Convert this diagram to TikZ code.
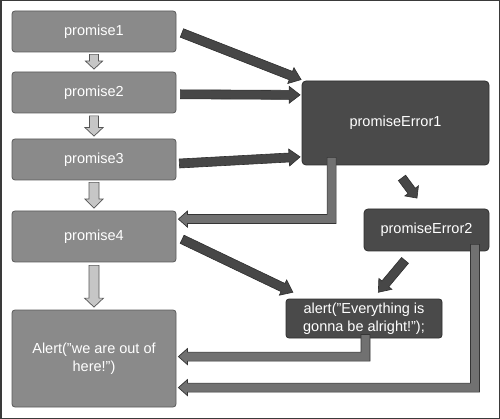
\documentclass[tikz,border=0pt]{standalone}
\usepackage{fontspec}
\setmainfont{Liberation Sans}
\usetikzlibrary{calc}
\definecolor{lbox}{HTML}{8A8A8A}
\definecolor{lboxd}{HTML}{5A5A5A}
\definecolor{dbox}{HTML}{4A4A4A}
\definecolor{dboxd}{HTML}{2E2E2E}
\definecolor{darr}{HTML}{474747}
\definecolor{darrd}{HTML}{2E2E2E}
\definecolor{rarr}{HTML}{717171}
\definecolor{rarrd}{HTML}{353535}
\definecolor{larr}{HTML}{C6C6C6}
\definecolor{larrd}{HTML}{555555}
\definecolor{framec}{HTML}{3A3A3A}
\tikzset{
  lightbox/.style={draw=lboxd, fill=lbox, rounded corners=3pt, line width=0.8pt,
    text=white, font=\fontsize{14.5}{18}\selectfont, inner sep=0pt, align=center},
  darkbox/.style={lightbox, draw=dboxd, fill=dbox, rounded corners=4pt},
  darrow/.style={fill=darr, draw=darrd, line width=0.6pt},
  retarrow/.style={fill=rarr, draw=rarrd, line width=0.7pt},
  downarrow/.style={fill=larr, draw=larrd, line width=0.7pt},
}
% #1 style, #2 start, #3 tip, #4 half shaft, #5 half head, #6 head length
\newcommand\blockarr[6]{%
  \path[#1] let \p1=#2, \p2=#3, \n1={atan2(\y2-\y1,\x2-\x1)} in
    ($(\p1)+(\n1+90:#4)$) -- ($(\p2)+(\n1+180:#6)+(\n1+90:#4)$)
    -- ($(\p2)+(\n1+180:#6)+(\n1+90:#5)$) -- (\p2)
    -- ($(\p2)+(\n1+180:#6)+(\n1-90:#5)$) -- ($(\p2)+(\n1+180:#6)+(\n1-90:#4)$)
    -- ($(\p1)+(\n1-90:#4)$) -- cycle;}
% #1 style, #2 start (top of vertical shaft), #3 tip (pointing left)
\newcommand\elbowarr[3]{%
  \path[#1] let \p1=#2, \p2=#3 in
    (\x1-4.5pt,\y1) -- (\x1+4.5pt,\y1) -- (\x1+4.5pt,\y2-4.5pt)
    -- (\x2+9pt,\y2-4.5pt) -- (\x2+9pt,\y2-8pt) -- (\p2)
    -- (\x2+9pt,\y2+8pt) -- (\x2+9pt,\y2+4.5pt) -- (\x1-4.5pt,\y2+4.5pt) -- cycle;}
\begin{document}
\begin{tikzpicture}[x=1pt,y=-1pt]
\useasboundingbox (0,0) rectangle (500,419);
\draw[framec, line width=1.5pt] (0.75,0.75) rectangle (499.25,418.25);

\node[lightbox, minimum width=164pt, minimum height=41pt] (p1) at (94,31.5) {promise1};
\node[lightbox, minimum width=164pt, minimum height=41pt] (p2) at (94,92.5) {promise2};
\node[lightbox, minimum width=164pt, minimum height=41pt] (p3) at (94,159.5) {promise3};
\node[lightbox, minimum width=164pt, minimum height=51pt] (p4) at (94,236.5) {promise4};
\node[lightbox, minimum width=164pt, minimum height=97pt] (al) at (94,358.5) {Alert("we are out of\\here!")};
\node[darkbox, minimum width=187pt, minimum height=84pt] (pe1) at (395.5,123) {promiseError1};
\node[darkbox, minimum width=125pt, minimum height=42pt] (pe2) at (426.5,230) {promiseError2};
\node[darkbox, rounded corners=3pt, minimum width=156pt, minimum height=39pt] (ok) at (364,318.5) {alert("Everything is\\gonna be alright!");};

% light down arrows
\blockarr{downarrow}{($(p1.south)+(0,2)$)}{($(p2.north)+(0,-2.5)$)}{4.5pt}{8.5pt}{8pt}
\blockarr{downarrow}{($(p2.south)+(0,2.5)$)}{($(p3.north)+(0,-2.5)$)}{4.5pt}{9pt}{8.5pt}
\blockarr{downarrow}{($(p3.south)+(0,2)$)}{($(p4.north)+(0,-2.5)$)}{5pt}{9pt}{9pt}
\blockarr{downarrow}{($(p4.south)+(0,3)$)}{($(al.north)+(0,-2.5)$)}{5pt}{9.5pt}{9pt}

% dark arrows
\blockarr{darrow}{($(p1.east)+(5.5,1.5)$)}{($(pe1.north west)+(-0.5,-1)$)}{4.5pt}{8.5pt}{11pt}
\blockarr{darrow}{($(p2.east)+(4,1.8)$)}{($(pe1.north west)+(-1.5,14.3)$)}{4.5pt}{8.5pt}{11pt}
\blockarr{darrow}{($(p3.east)+(3,4)$)}{($(pe1.south west)+(-1.5,-8.5)$)}{4.5pt}{8.5pt}{11pt}
\blockarr{darrow}{($(pe1.south)+(6.5,12.5)$)}{($(pe2.north)+(-9.5,-10.5)$)}{4.5pt}{8.5pt}{9pt}
\blockarr{darrow}{($(p4.east)+(5.7,2.8)$)}{($(ok.north west)+(7.3,-6.3)$)}{4.5pt}{8.5pt}{11pt}
\blockarr{darrow}{($(pe2.south)+(-21.5,9)$)}{($(ok.north)+(14.3,-6.3)$)}{4.5pt}{8.5pt}{11pt}

% return arrows
\elbowarr{retarrow}{($(pe1.south west)+(30,-8)$)}{($(p4.north east)+(2,8.5)$)}
\elbowarr{retarrow}{($(ok.south)+(1.5,-4)$)}{($(al.north east)+(2,47)$)}
\elbowarr{retarrow}{($(pe2.south east)+(-14.5,-7)$)}{($(al.north east)+(2,78)$)}
\end{tikzpicture}
\end{document}
